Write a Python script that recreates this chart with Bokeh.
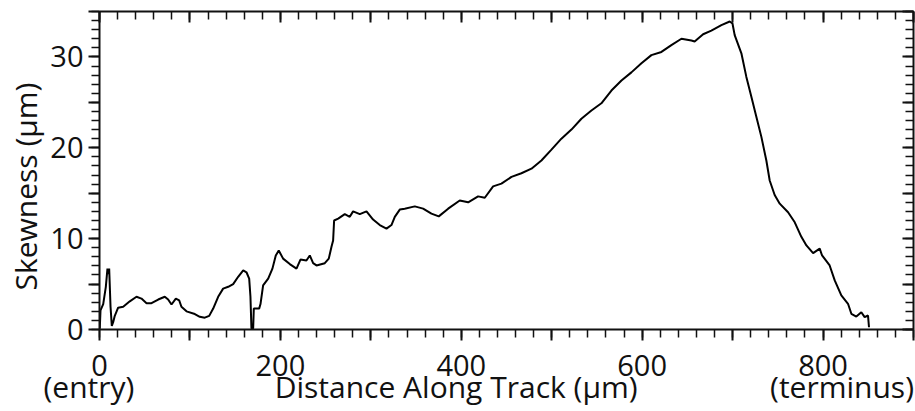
from bokeh.plotting import figure
from bokeh.models import LinearAxis, Range1d, Title, SingleIntervalTicker
from bokeh.embed import file_html
from bokeh.resources import INLINE

# Distance along track (um)
distance = [0.3, 1.1, 4.1, 7.0, 8.8, 10.0, 10.7, 12.2, 13.6, 15.1, 16.9, 20.6, 26.2, 33.5,
            40.9, 46.4, 52.0, 57.5, 64.9, 72.2, 75.9, 79.6, 84.4, 88.1, 90.6, 96.2, 105.4,
            110.9, 116.4, 121.3, 125.7, 131.2, 136.7, 142.3, 147.8, 153.3, 158.9, 162.5,
            165.5, 166.9, 168.0, 169.9, 170.6, 176.5, 178.0, 180.9, 186.5, 191.2, 194.9,
            198.2, 203.0, 210.4, 217.8, 222.2, 228.8, 232.5, 236.2, 239.9, 249.1, 253.5,
            256.5, 258.3, 259.4, 263.9, 271.2, 276.7, 280.4, 287.8, 295.2, 302.5, 309.9,
            317.3, 322.8, 326.5, 332.0, 337.5, 348.6, 357.8, 367.0, 375.1, 385.5, 398.3,
            407.6, 418.6, 426.0, 435.2, 444.4, 455.5, 466.5, 477.6, 488.6, 499.7, 510.7,
            521.8, 532.8, 543.9, 554.9, 566.0, 577.1, 588.1, 599.2, 610.2, 621.3, 632.3,
            643.4, 654.4, 658.0, 667.4, 676.5, 687.6, 696.8, 699.8, 702.3, 709.7, 715.2,
            720.8, 726.3, 731.8, 737.3, 741.0, 746.5, 752.1, 761.3, 768.7, 776.0, 781.6,
            789.0, 796.3, 798.9, 807.3, 812.9, 820.2, 827.6, 831.3, 836.8, 842.3, 846.0,
            849.7, 850.8]

# Skewness (um)
skewness = [0.1, 2.1, 2.8, 4.7, 6.7, 6.1, 6.7, 2.5, 0.4, 0.8, 1.5, 2.4, 2.5, 3.1,
            3.6, 3.4, 2.9, 2.9, 3.3, 3.6, 3.3, 2.75, 3.4, 3.2, 2.5, 2.0, 1.7,
            1.4, 1.3, 1.5, 2.3, 3.6, 4.5, 4.7, 5.0, 5.8, 6.5, 6.3,
            5.6, 3.6, 0.1, 0.1, 2.3, 2.3, 2.8, 4.85, 5.6, 6.7, 8.15,
            8.7, 7.8, 7.2, 6.7, 7.7, 7.6, 8.15, 7.3, 7.05, 7.3, 7.8,
            9.1, 9.8, 12.0, 12.2, 12.7, 12.4, 13.0, 12.7, 13.0, 12.1, 11.5,
            11.1, 11.5, 12.4, 13.2, 13.3, 13.55, 13.3, 12.75, 12.45, 13.3, 14.2,
            14.0, 14.65, 14.5, 15.75, 16.05, 16.8, 17.2, 17.7, 18.6, 19.8, 21.0,
            22.0, 23.2, 24.1, 24.9, 26.3, 27.4, 28.3, 29.3, 30.2, 30.55, 31.3,
            32.0, 31.8, 31.7, 32.5, 32.9, 33.5, 33.9, 33.7, 32.4, 30.4, 27.8,
            25.6, 23.4, 21.2, 18.6, 16.4, 14.8, 13.85, 12.9, 11.8, 10.2, 9.25,
            8.4, 8.9, 8.15, 7.05, 5.4, 3.75, 2.83, 1.73, 1.43, 1.9, 1.36,
            1.54, 0.25]

x_tick_labels = {0: "0", 100: "", 200: "200", 300: "", 400: "400", 500: "",
                 600: "600", 700: "", 800: "800", 900: ""}
y_tick_labels = {0: "0", 5: "", 10: "10", 15: "", 20: "20", 25: "", 30: "30", 35: ""}

x_title = "Distance Along Track (μm)"
x_start_note = "(entry)"
x_end_note = "(terminus)"
y_title = "Skewness (μm)"

FONT = "Open Sans"
INK = "#111111"
NB = "\u00a0"

p = figure(frame_width=814, frame_height=318, output_backend="svg", toolbar_location=None,
           x_range=Range1d(0, 900), y_range=Range1d(0, 35),
           x_axis_type=None, y_axis_type=None,
           min_border_left=98, min_border_right=3, min_border_top=11, min_border_bottom=82)
p.outline_line_color = None
p.grid.visible = False
p.background_fill_color = "white"
p.border_fill_color = "white"


def style(ax, outside, show_labels):
    ax.axis_line_width = 2
    ax.axis_line_color = INK
    ax.major_tick_line_color = INK
    ax.minor_tick_line_color = INK
    ax.major_tick_line_width = 2
    ax.minor_tick_line_width = 1.5
    if outside:
        ax.major_tick_out, ax.major_tick_in = 11, 0
        ax.minor_tick_out, ax.minor_tick_in = 8, 0
    else:
        ax.major_tick_out, ax.major_tick_in = 0, 11
        ax.minor_tick_out, ax.minor_tick_in = 0, 8
    if show_labels:
        ax.major_label_text_font = FONT
        ax.major_label_text_font_size = "29px"
        ax.major_label_text_color = INK
    else:
        ax.major_label_text_font_size = "0px"
        ax.major_label_standoff = 0
        ax.major_label_text_alpha = 0


xt = SingleIntervalTicker(interval=100, num_minor_ticks=5)
yt = SingleIntervalTicker(interval=5, num_minor_ticks=5)

bottom = LinearAxis(ticker=xt, major_label_overrides=x_tick_labels)
style(bottom, True, True)
bottom.major_label_standoff = 14
left = LinearAxis(ticker=yt, major_label_overrides=y_tick_labels)
style(left, True, True)
left.major_label_standoff = 5
top = LinearAxis(ticker=xt)
style(top, False, False)
right = LinearAxis(ticker=yt)
style(right, False, False)

p.add_layout(bottom, "below")
p.add_layout(left, "left")
p.add_layout(top, "above")
p.add_layout(right, "right")

p.line(distance, skewness, line_color="black", line_width=2)

row_text = x_start_note + NB * 18 + x_title + NB * 17 + x_end_note
p.add_layout(Title(text=row_text, align="left", offset=-56, standoff=-30,
                   text_font=FONT, text_font_size="30px", text_font_style="normal",
                   text_color=INK), "below")
p.add_layout(Title(text=y_title, align="left", offset=39, standoff=4,
                   text_font=FONT, text_font_size="30px", text_font_style="normal",
                   text_color=INK), "left")

open("out.html", "w").write(file_html(p, INLINE))
